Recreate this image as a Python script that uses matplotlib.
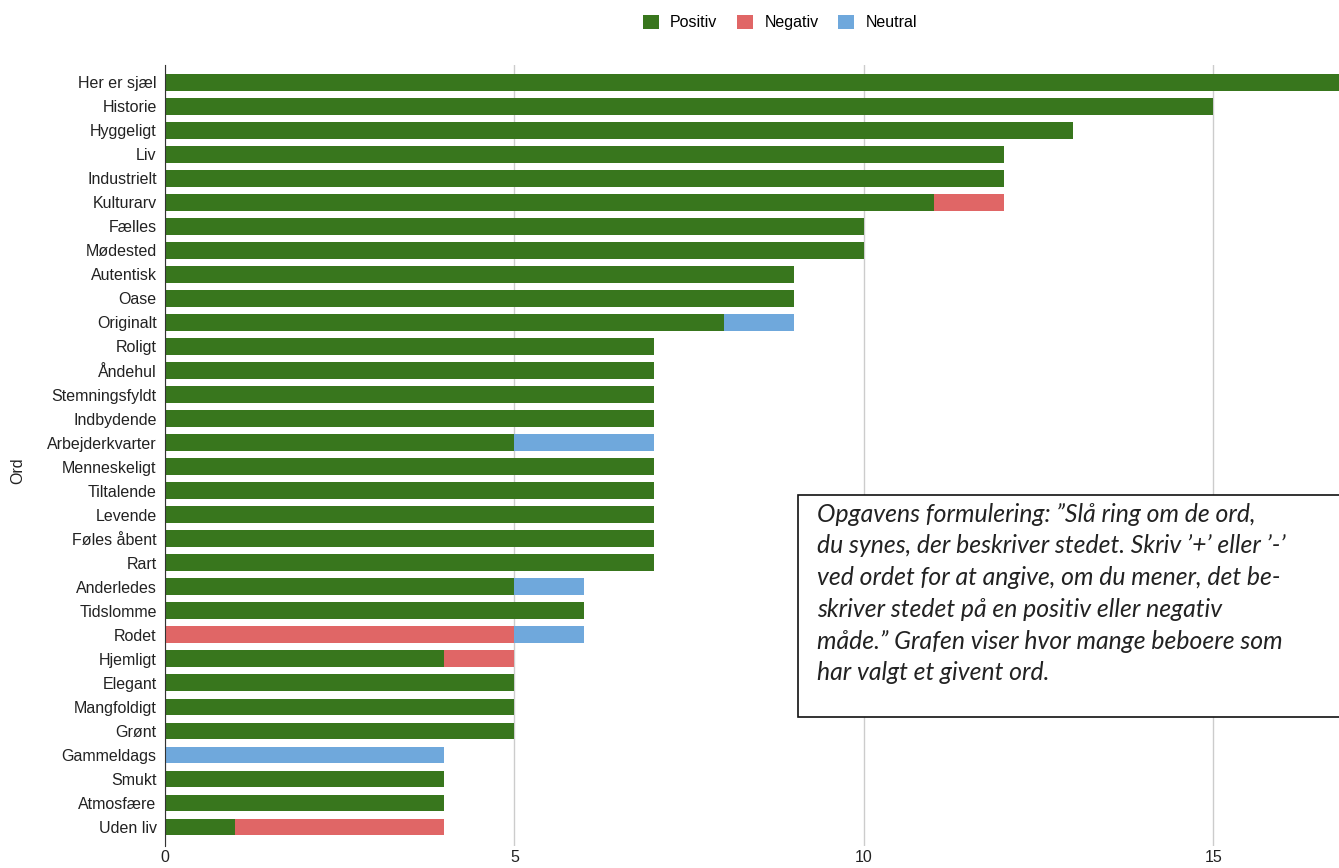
import matplotlib.pyplot as plt
import matplotlib.patches as patches
import numpy as np

ord_labels = ["Her er sjæl", "Historie", "Hyggeligt", "Liv", "Industrielt", "Kulturarv",
              "Fælles", "Mødested", "Autentisk", "Oase", "Originalt", "Roligt", "Åndehul",
              "Stemningsfyldt", "Indbydende", "Arbejderkvarter", "Menneskeligt", "Tiltalende",
              "Levende", "Føles åbent", "Rart", "Anderledes", "Tidslomme", "Rodet", "Hjemligt",
              "Elegant", "Mangfoldigt", "Grønt", "Gammeldags", "Smukt", "Atmosfære", "Uden liv"]
positiv = [17, 15, 13, 12, 12, 11, 10, 10, 9, 9, 8, 7, 7, 7, 7, 5, 7, 7, 7, 7, 7,
           5, 6, 0, 4, 5, 5, 5, 0, 4, 4, 1]
negativ = [0, 0, 0, 0, 0, 1, 0, 0, 0, 0, 0, 0, 0, 0, 0, 0, 0, 0, 0, 0, 0,
           0, 0, 5, 1, 0, 0, 0, 0, 0, 0, 3]
neutral = [0, 0, 0, 0, 0, 0, 0, 0, 0, 0, 1, 0, 0, 0, 0, 2, 0, 0, 0, 0, 0,
           1, 0, 1, 0, 0, 0, 0, 4, 0, 0, 0]

GREEN = "#38761d"
RED = "#e06666"
BLUE = "#6fa8dc"

plt.rcParams['font.family'] = ['Liberation Sans', 'DejaVu Sans']

fig = plt.figure(figsize=(13.39, 8.68), dpi=100)
ax = fig.add_axes([0.1232, 0.0253, 0.8768, 0.8997])

y = np.arange(len(ord_labels))
pos = np.array(positiv)
neg = np.array(negativ)
neu = np.array(neutral)
h = 0.7
ax.barh(y, pos, height=h, color=GREEN, label="Positiv", zorder=3)
ax.barh(y, neg, left=pos, height=h, color=RED, label="Negativ", zorder=3)
ax.barh(y, neu, left=pos + neg, height=h, color=BLUE, label="Neutral", zorder=3)

ax.set_ylim(31.79, -0.71)
ax.set_xlim(0, 16.8)
ax.set_yticks(y)
ax.set_yticklabels(ord_labels, fontsize=11.5, color="#222222")
ax.set_xticks([0, 5, 10, 15])
ax.tick_params(axis="x", labelsize=11.5, colors="#222222", length=0, pad=3)
ax.tick_params(axis="y", length=0, pad=6)
ax.grid(axis="x", color="#cccccc", linewidth=1, zorder=0)
for s in ["top", "right", "bottom"]:
    ax.spines[s].set_visible(False)
ax.spines["left"].set_color("#333333")
ax.spines["left"].set_zorder(4)

fig.text(0.013, 0.458, "Ord", rotation=90, fontsize=11.5, color="#222222", va="center", ha="center")

handles, labels = ax.get_legend_handles_labels()
fig.legend(handles, labels, loc="center", bbox_to_anchor=(0.5825, 0.974), ncol=3,
           frameon=False, fontsize=11.5, handlelength=1.0, handleheight=1.0,
           columnspacing=1.25, handletextpad=0.7)

# text box
rect = patches.Rectangle((0.596, 0.174), 0.5, 0.2557, transform=fig.transFigure,
                         facecolor="white", edgecolor="#111111", linewidth=1.2, zorder=10)
fig.patches.append(rect)
note = ("Opgavens formulering: \u201dSlå ring om de ord,\n"
        "du synes, der beskriver stedet. Skriv \u2019+\u2019 eller \u2019-\u2019\n"
        "ved ordet for at angive, om du mener, det be-\n"
        "skriver stedet på en positiv eller negativ\n"
        "måde.\u201d Grafen viser hvor mange beboere som\n"
        "har valgt et givent ord.")
fig.text(0.610, 0.421, note, fontsize=17.8, style="italic", family=["Lato", "DejaVu Sans"],
         va="top", ha="left", linespacing=1.46, color="#222222", zorder=11)

fig.savefig("out.png", dpi=100)
